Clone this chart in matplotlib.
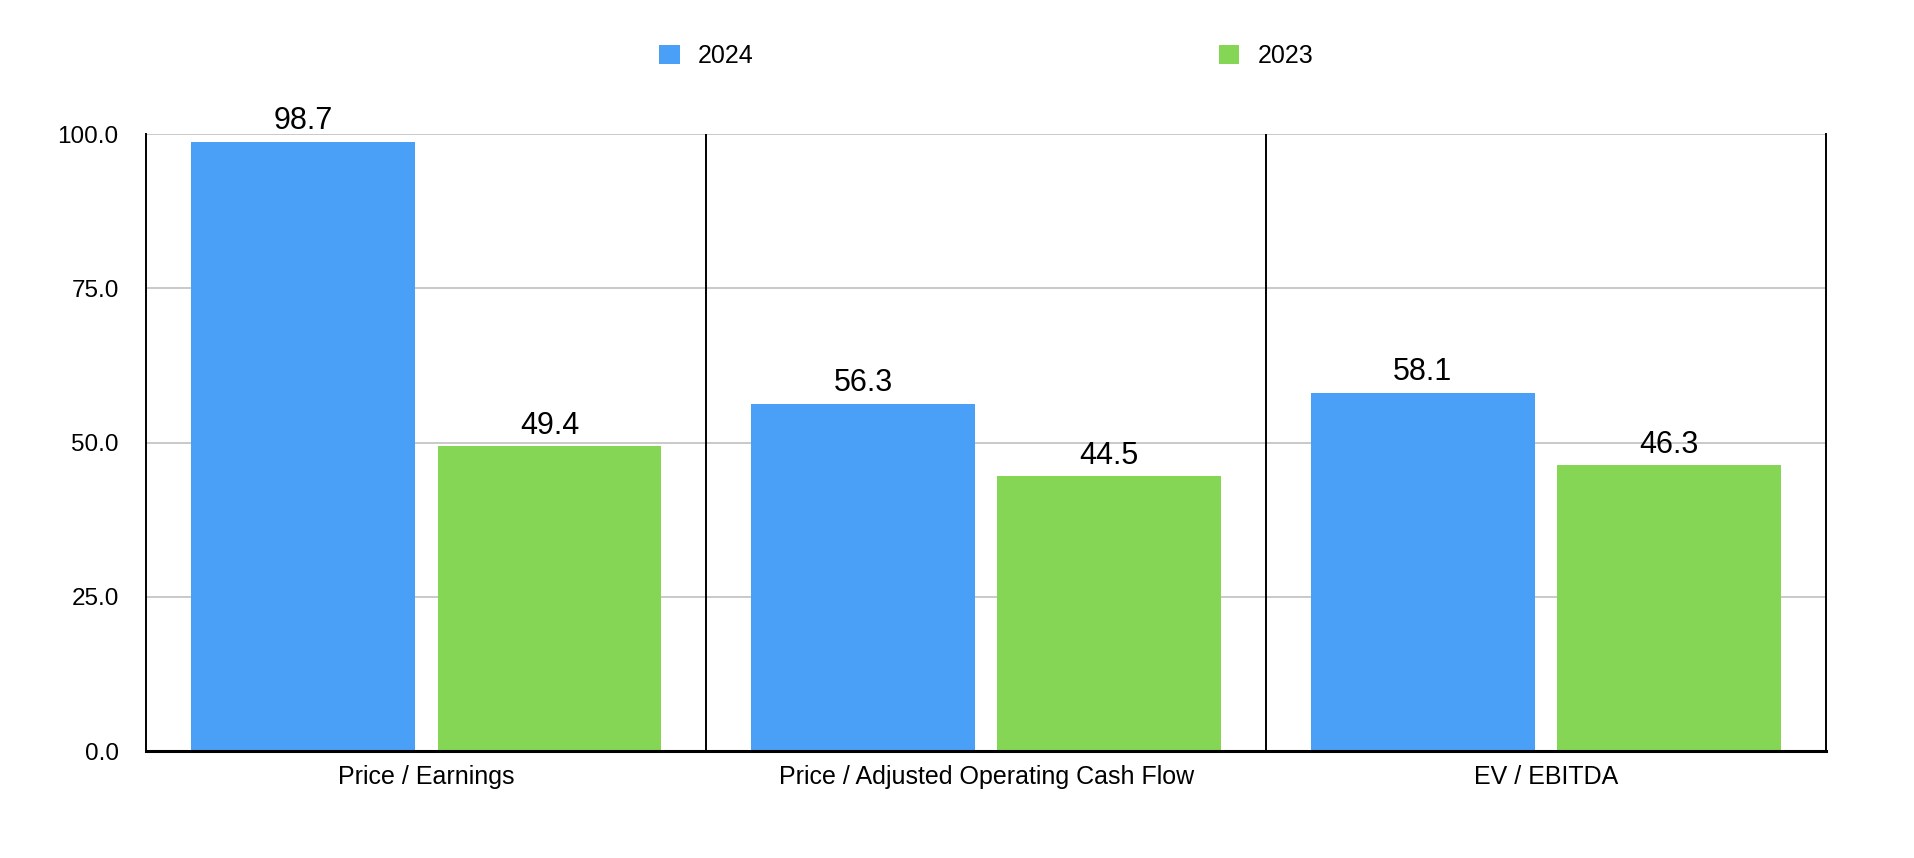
import numpy as np
import matplotlib
matplotlib.use("Agg")
import matplotlib.pyplot as plt
from matplotlib.patches import Patch

categories = ["Price / Earnings", "Price / Adjusted Operating Cash Flow", "EV / EBITDA"]
series_names = ["2024", "2023"]
values_2024 = [98.7, 56.3, 58.1]
values_2023 = [49.4, 44.5, 46.3]
y_ticks = [0, 25, 50, 75, 100]

blue = "#4A9FF7"
green = "#84D654"

plt.rcParams["font.family"] = ["Liberation Sans", "DejaVu Sans"]

fig = plt.figure(figsize=(19.14, 8.58), dpi=100)
ax = fig.add_axes([0.0765, 0.1247, 0.954 - 0.0765, 0.8438 - 0.1247])

x = np.arange(len(categories))
w = 0.4
off = 0.22
b1 = ax.bar(x - off, values_2024, w, color=blue, zorder=3)
b2 = ax.bar(x + off, values_2023, w, color=green, zorder=3)

for bars, vals in ((b1, values_2024), (b2, values_2023)):
    for rect, v in zip(bars, vals):
        ax.annotate(f"{v:.1f}", (rect.get_x() + rect.get_width() / 2, v),
                    xytext=(0, 4), textcoords="offset points",
                    ha="center", va="bottom", fontsize=22, color="black")

ax.set_xlim(-0.5, len(categories) - 0.5)
ax.set_ylim(0, 100)
ax.set_yticks(y_ticks)
ax.set_yticklabels([f"{t:.1f}" for t in y_ticks])
ax.set_xticks(x)
ax.set_xticklabels(categories)
ax.tick_params(axis="y", length=0, pad=20, labelsize=17.5)
ax.tick_params(axis="x", length=0, pad=10, labelsize=18)

ax.yaxis.grid(True, color="#BBBBBB", linewidth=1.1, zorder=0)
ax.set_axisbelow(True)

# group dividers
for xd in x[:-1] + 0.5:
    ax.axvline(xd, color="black", linewidth=1.4, zorder=4)

ax.spines["top"].set_visible(False)
ax.spines["left"].set_linewidth(1.4)
ax.spines["right"].set_linewidth(1.4)
ax.spines["bottom"].set_linewidth(2.2)
ax.spines["bottom"].set_zorder(5)

handles = [Patch(facecolor=blue), Patch(facecolor=green)]
ax.legend(handles, series_names, loc="center", bbox_to_anchor=(0.5, 1.126),
          ncol=2, frameon=False, fontsize=18, handlelength=0.83, handleheight=0.83,
          handletextpad=0.73, columnspacing=18.6)

fig.savefig("out.png", dpi=100, facecolor="white")
